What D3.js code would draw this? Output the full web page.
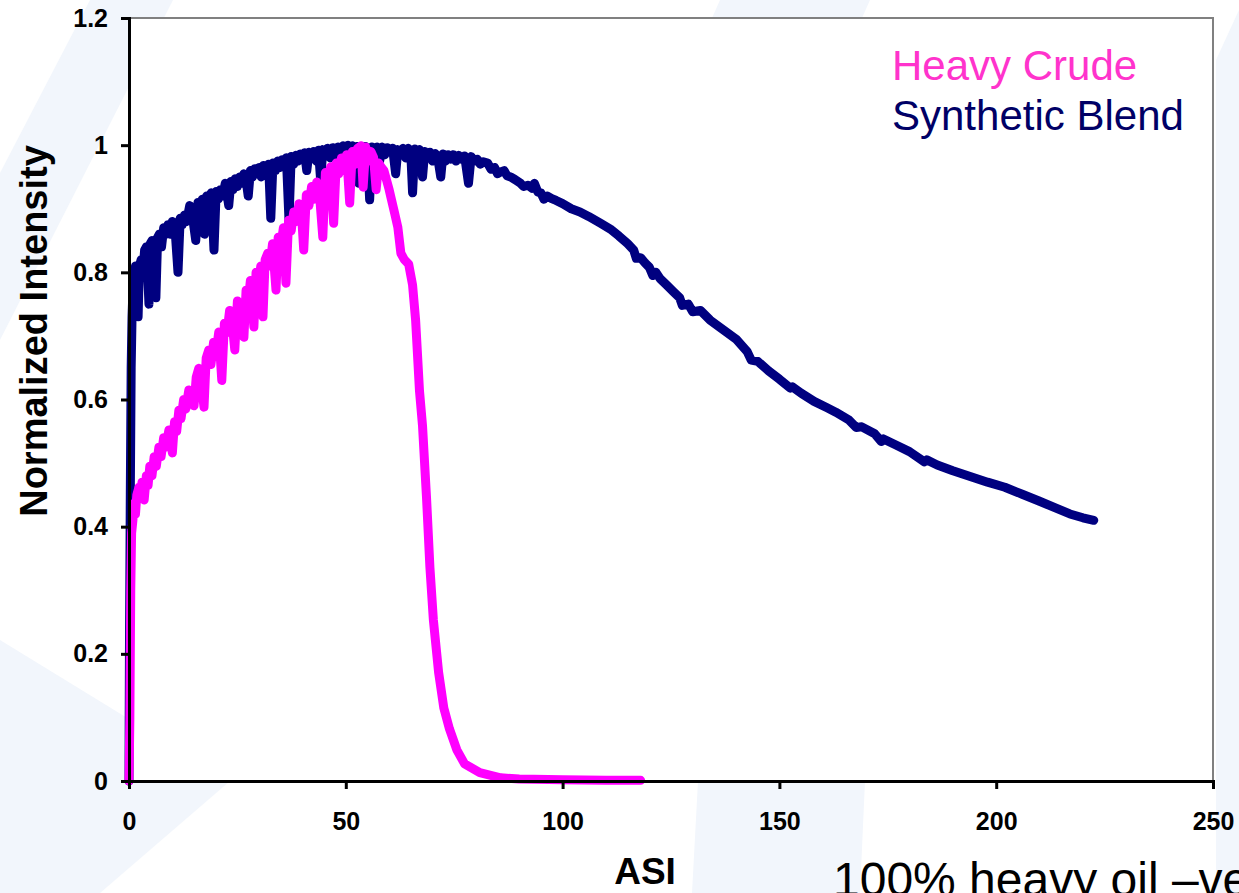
<!DOCTYPE html>
<html>
<head>
<meta charset="utf-8">
<script src="https://cdn.jsdelivr.net/npm/d3@7"></script>
<style>
  body { margin: 0; background: #fff; }
  svg { display: block; font-family: "Liberation Sans", Arial, sans-serif; }
</style>
</head>
<body>
<svg width="1239" height="893"></svg>
<script>
// values (ASI vs normalized intensity)
var blendX = [0, 0.1, 0.3, 0.5, 0.7, 0.9, 1.2, 1.5, 1.8, 2.1, 2.4, 2.8, 3.2, 3.6, 4.0, 4.3, 4.6, 4.9, 5.3, 5.7,
  6.2, 6.6, 7.0, 7.5, 8.0, 8.5, 9.0, 9.5, 10.0, 10.6, 11.3, 11.8, 12.3, 12.8, 13.3, 14.0, 14.6, 15.4, 15.9, 16.4,
  16.9, 17.4, 17.9, 18.4, 19.0, 19.6, 20.1, 20.6, 21.1, 21.6, 22.2, 23.0, 23.5, 24.0, 24.5, 25.0, 25.5, 26.0, 26.5, 27.0,
  27.5, 28.0, 28.5, 29.0, 29.5, 30.0, 30.5, 31.0, 31.6, 32.2, 32.7, 33.2, 33.8, 34.3, 34.8, 35.3, 35.8, 36.3, 36.9, 37.4,
  38.0, 38.5, 39.0, 39.5, 40.0, 40.5, 41.0, 41.5, 42.0, 42.6, 43.2, 43.7, 44.2, 44.7, 45.3, 45.8, 46.4, 47.0, 47.6, 48.2,
  48.8, 49.4, 50.0, 50.5, 51.0, 51.5, 52.0, 52.5, 53.0, 53.5, 54.0, 54.5, 55.0, 55.5, 56.0, 56.6, 57.2, 57.8, 58.4, 59.0,
  59.6, 60.2, 60.8, 61.5, 62.0, 62.6, 63.2, 63.8, 64.4, 65.0, 65.4, 65.9, 66.4, 67.0, 67.7, 68.2, 68.8, 69.4, 70.0, 70.6,
  71.2, 71.9, 72.4, 73.0, 73.6, 74.2, 74.8, 75.4, 76.0, 76.7, 77.4, 78.3, 78.9, 79.6, 80.3, 81.0, 81.7, 82.7, 83.5, 84.3,
  85.0, 85.7, 86.5, 87.2, 88.0, 89.0, 90.3, 91.0, 92.0, 93.0, 93.5, 94.3, 95.0, 95.7, 96.5, 97.5, 98.5, 100, 102, 104,
  106, 108.8, 111, 113, 115, 116.4, 117, 118, 119, 120, 120.8, 121.5, 122.5, 124, 125.5, 127, 127.6, 129, 130, 131.8,
  134, 137, 140, 142.6, 143.5, 145, 147.5, 150, 152.5, 153, 155, 158, 161, 163, 166, 167.7, 169, 172, 173.5, 174,
  177, 180, 183.4, 184, 186.4, 190, 194, 198, 202, 206, 210, 213.8, 217, 220, 222.5];
var blendY = [0, 0.2, 0.45, 0.65, 0.73, 0.77, 0.79, 0.81, 0.77, 0.73, 0.81, 0.82, 0.8, 0.835, 0.84, 0.8, 0.75, 0.845, 0.85, 0.83,
  0.76, 0.855, 0.86, 0.84, 0.87, 0.86, 0.875, 0.86, 0.88, 0.87, 0.8, 0.885, 0.875, 0.89, 0.88, 0.905, 0.89, 0.85, 0.91, 0.9,
  0.915, 0.86, 0.92, 0.905, 0.925, 0.835, 0.927, 0.915, 0.93, 0.92, 0.94, 0.905, 0.943, 0.93, 0.947, 0.935, 0.95, 0.94, 0.955, 0.945,
  0.92, 0.96, 0.95, 0.963, 0.955, 0.965, 0.95, 0.968, 0.96, 0.97, 0.885, 0.972, 0.96, 0.975, 0.965, 0.977, 0.97, 0.98, 0.882, 0.982,
  0.97, 0.984, 0.975, 0.986, 0.978, 0.988, 0.96, 0.989, 0.98, 0.99, 0.975, 0.992, 0.945, 0.993, 0.985, 0.995, 0.98, 0.996, 0.985, 0.997,
  0.99, 0.999, 0.99, 1.0, 0.99, 0.999, 0.985, 0.998, 0.94, 0.998, 0.985, 0.998, 0.99, 0.914, 0.997, 0.985, 0.997, 0.975, 0.997, 0.985,
  0.996, 0.99, 0.995, 0.955, 0.993, 0.985, 0.995, 0.98, 0.995, 0.985, 0.925, 0.994, 0.98, 0.993, 0.95, 0.99, 0.98, 0.989, 0.975, 0.987,
  0.98, 0.95, 0.986, 0.975, 0.985, 0.978, 0.985, 0.975, 0.984, 0.978, 0.983, 0.94, 0.982, 0.975, 0.978, 0.97, 0.974, 0.972, 0.962, 0.965,
  0.955, 0.958, 0.96, 0.952, 0.95, 0.946, 0.94, 0.935, 0.937, 0.932, 0.94, 0.926, 0.925, 0.915, 0.92, 0.916, 0.913, 0.908, 0.9, 0.895,
  0.888, 0.877, 0.868, 0.857, 0.845, 0.835, 0.822, 0.823, 0.815, 0.808, 0.795, 0.8, 0.79, 0.78, 0.77, 0.76, 0.748, 0.75, 0.738, 0.74,
  0.725, 0.71, 0.695, 0.675, 0.662, 0.66, 0.645, 0.632, 0.618, 0.62, 0.61, 0.597, 0.587, 0.58, 0.568, 0.556, 0.557, 0.546, 0.534, 0.538,
  0.528, 0.518, 0.502, 0.505, 0.497, 0.488, 0.479, 0.47, 0.462, 0.451, 0.44, 0.429, 0.42, 0.414, 0.41];

var crudeX = [0, 0.2, 0.4, 0.6, 0.9, 1.2, 1.5, 1.8, 2.3, 2.7, 3.0, 3.5, 4.0, 4.4, 4.8, 5.3, 5.8, 6.3, 6.9, 7.4,
  8.0, 8.5, 9.2, 10.0, 10.5, 11.0, 11.5, 12.0, 12.6, 13.1, 13.8, 14.3, 15.0, 15.5, 16.1, 16.6, 17.3, 17.8, 18.4, 18.9,
  19.5, 20.1, 20.7, 21.4, 22.0, 22.6, 23.2, 23.8, 24.4, 25.0, 25.6, 26.5, 27.0, 27.5, 28.0, 28.8, 29.3, 29.8, 30.4, 30.9,
  31.4, 32.0, 32.5, 33.1, 33.9, 34.4, 35.0, 35.6, 36.2, 36.8, 37.4, 38.0, 38.6, 39.2, 39.8, 40.3, 40.9, 41.5, 42.1, 42.7,
  43.3, 43.9, 44.7, 45.3, 45.9, 46.5, 47.2, 47.8, 48.4, 49.0, 49.6, 50.2, 50.9, 51.5, 52.1, 52.7, 53.5, 54.0, 54.6, 55.2,
  55.8, 56.4, 57.0, 57.6, 58.2, 58.8, 59.4, 60.0, 60.4, 61.2, 62.0, 62.7, 63.5, 64.5, 65.4, 66.1, 67.0, 67.7, 68.6, 69.4,
  70.2, 71.4, 72.6, 73.9, 75.6, 77.4, 80.9, 85.7, 90, 100, 110, 118];
var crudeY = [0, 0.1, 0.3, 0.39, 0.41, 0.437, 0.42, 0.45, 0.462, 0.445, 0.47, 0.442, 0.48, 0.465, 0.495, 0.48, 0.51, 0.495, 0.525, 0.51,
  0.54, 0.525, 0.552, 0.516, 0.565, 0.55, 0.583, 0.57, 0.6, 0.585, 0.615, 0.6, 0.59, 0.635, 0.649, 0.63, 0.588, 0.665, 0.678, 0.655,
  0.69, 0.675, 0.706, 0.63, 0.72, 0.705, 0.74, 0.72, 0.678, 0.755, 0.735, 0.698, 0.772, 0.755, 0.787, 0.714, 0.8, 0.78, 0.81, 0.73,
  0.82, 0.83, 0.81, 0.845, 0.772, 0.855, 0.84, 0.87, 0.783, 0.882, 0.865, 0.895, 0.88, 0.908, 0.89, 0.835, 0.922, 0.905, 0.935, 0.915,
  0.942, 0.925, 0.855, 0.957, 0.94, 0.966, 0.877, 0.972, 0.955, 0.98, 0.96, 0.985, 0.909, 0.99, 0.97, 0.995, 0.999, 0.934, 0.997, 0.975,
  0.99, 0.981, 0.93, 0.972, 0.965, 0.96, 0.945, 0.93, 0.918, 0.895, 0.871, 0.83, 0.82, 0.813, 0.78, 0.725, 0.613, 0.558, 0.448, 0.336,
  0.253, 0.171, 0.115, 0.082, 0.049, 0.027, 0.013, 0.005, 0.003, 0.002, 0.001, 0.001];

var xTicks = [0, 50, 100, 150, 200, 250];
var yTicks = [0, 0.2, 0.4, 0.6, 0.8, 1, 1.2];
var seriesNames = ["Heavy Crude", "Synthetic Blend"];

var svg = d3.select("svg");

// faint slide background shapes
var bgShapes = [
  [[90, 0], [173, 0], [0, 340], [0, 173]],
  [[0, 640], [230, 781], [100, 893], [0, 893]],
  [[698, 781], [865, 781], [860, 893], [692, 893]],
  [[720, 0], [870, 0], [862, 18], [712, 18]],
  [[1216, 60], [1239, 10], [1239, 893], [1216, 893]]
];
svg.selectAll("polygon.bg")
  .data(bgShapes)
  .enter()
  .append("polygon")
  .attr("class", "bg")
  .attr("points", function(d) { return d.join(" "); })
  .attr("fill", "#f2f6fc");

var x = d3.scaleLinear().domain([0, 250]).range([129, 1213]);
var y = d3.scaleLinear().domain([0, 1.2]).range([781, 18]);

// plot area
svg.append("rect")
  .attr("x", x(0)).attr("y", y(1.2))
  .attr("width", x(250) - x(0)).attr("height", y(0) - y(1.2))
  .attr("fill", "#fff");
svg.append("path")
  .attr("d", "M" + x(0) + "," + y(1.2) + "H" + x(250) + "V" + y(0))
  .attr("fill", "none")
  .attr("stroke", "#808080")
  .attr("stroke-width", 2);

var line = d3.line()
  .x(function(d) { return x(d[0]); })
  .y(function(d) { return y(d[1]); });

var blend = d3.zip(blendX, blendY);
var crude = d3.zip(crudeX, crudeY);

svg.append("path")
  .datum(blend)
  .attr("d", line)
  .attr("fill", "none")
  .attr("stroke", "#000080")
  .attr("stroke-width", 9)
  .attr("stroke-linejoin", "round")
  .attr("stroke-linecap", "round");

svg.append("path")
  .datum(crude)
  .attr("d", line)
  .attr("fill", "none")
  .attr("stroke", "#ff00ff")
  .attr("stroke-width", 9)
  .attr("stroke-linejoin", "round")
  .attr("stroke-linecap", "round");

// axes
var xAxis = svg.append("g")
  .attr("transform", "translate(0," + y(0) + ")")
  .call(d3.axisBottom(x).tickValues(xTicks).tickSize(8).tickPadding(23).tickFormat(d3.format("")));
var yAxis = svg.append("g")
  .attr("transform", "translate(" + x(0) + ",0)")
  .call(d3.axisLeft(y).tickValues(yTicks).tickSize(8).tickPadding(13).tickFormat(d3.format("")));

[xAxis, yAxis].forEach(function(g) {
  g.select(".domain").attr("stroke", "#000").attr("stroke-width", 3);
  g.selectAll(".tick line").attr("stroke", "#000").attr("stroke-width", 3);
  g.selectAll(".tick text")
    .attr("fill", "#000")
    .style("font-size", "25px")
    .style("font-weight", "bold")
    .style("font-family", "'Liberation Sans', Arial, sans-serif");
});

// axis titles
svg.append("text")
  .attr("x", 645).attr("y", 884)
  .attr("text-anchor", "middle")
  .style("font-size", "37px").style("font-weight", "bold")
  .text("ASI");

svg.append("text")
  .attr("transform", "translate(47,331) rotate(-90)")
  .attr("text-anchor", "middle")
  .style("font-size", "38px").style("font-weight", "bold")
  .text("Normalized Intensity");

// legend (plain text labels)
svg.selectAll("text.legend")
  .data(seriesNames)
  .enter()
  .append("text")
  .attr("class", "legend")
  .attr("x", 892)
  .attr("y", function(d, i) { return 80 + i * 50; })
  .attr("fill", function(d, i) { return i === 0 ? "#ff33cc" : "#000066"; })
  .style("font-size", "42px")
  .text(function(d) { return d; });

// slide caption, cut off by the frame as in the original slide
svg.append("text")
  .attr("x", 833).attr("y", 896)
  .style("font-size", "48px")
  .text("100% heavy oil –ve");
</script>
</body>
</html>
